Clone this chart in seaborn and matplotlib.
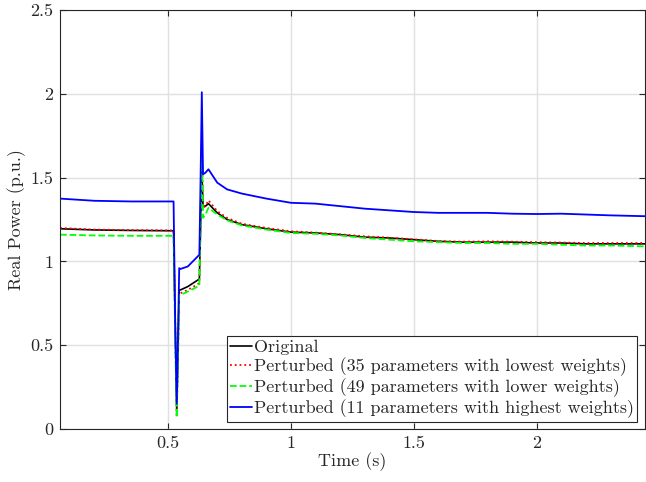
import matplotlib
matplotlib.use("Agg")
import matplotlib.pyplot as plt
import seaborn as sns
import numpy as np

time_s = [0.06, 0.2, 0.35, 0.522, 0.529, 0.535, 0.545, 0.55, 0.58, 0.627, 0.632, 0.637,
          0.642, 0.652, 0.664, 0.70, 0.74, 0.80, 0.90,
          1.0, 1.1, 1.2, 1.3, 1.4, 1.5, 1.6, 1.7, 1.8, 1.9, 2.0, 2.1, 2.2, 2.3, 2.44]

original = [1.195, 1.188, 1.185, 1.183, 0.6, 0.10, 0.83, 0.83, 0.85, 0.895, 1.2, 1.55,
            1.33, 1.33, 1.345, 1.29, 1.25, 1.22, 1.195,
            1.175, 1.17, 1.16, 1.145, 1.14, 1.13, 1.12, 1.115, 1.115, 1.115, 1.11, 1.11, 1.105, 1.105, 1.105]
pert_lowest = [1.2, 1.19, 1.187, 1.185, 0.6, 0.07, 0.81, 0.81, 0.83, 0.87, 1.25, 1.70,
               1.32, 1.33, 1.365, 1.30, 1.26, 1.225, 1.2,
               1.18, 1.172, 1.162, 1.15, 1.142, 1.132, 1.122, 1.118, 1.12, 1.118, 1.115, 1.113, 1.11, 1.11, 1.11]
pert_lower = [1.16, 1.155, 1.153, 1.153, 0.5, 0.07, 0.80, 0.80, 0.82, 0.855, 1.25, 1.70,
              1.26, 1.28, 1.32, 1.28, 1.245, 1.215, 1.19,
              1.17, 1.165, 1.155, 1.14, 1.13, 1.12, 1.115, 1.11, 1.11, 1.105, 1.105, 1.10, 1.095, 1.095, 1.09]
pert_highest = [1.375, 1.362, 1.358, 1.358, 0.6, 0.15, 0.96, 0.955, 0.97, 1.04, 1.5, 2.01,
                1.52, 1.53, 1.55, 1.47, 1.43, 1.405, 1.375,
                1.35, 1.345, 1.33, 1.315, 1.305, 1.295, 1.29, 1.29, 1.29, 1.285, 1.283, 1.285, 1.28, 1.275, 1.27]

labels = ["Original",
          "Perturbed (35 parameters with lowest weights)",
          "Perturbed (49 parameters with lower weights)",
          "Perturbed (11 parameters with highest weights)"]

sns.set_style("whitegrid")
plt.rcParams['font.family'] = ['cmr10', 'DejaVu Serif']
plt.rcParams['mathtext.fontset'] = 'cm'
plt.rcParams['axes.formatter.use_mathtext'] = True

fig = plt.figure(figsize=(6.46, 4.82), dpi=100)
ax = fig.add_axes([0.093, 0.110, 0.905, 0.869])

series = [(original, "black", "-", 1.2),
          (pert_lowest, "#FF0000", ":", 1.3),
          (pert_lower, "#00FF00", "--", 1.3),
          (pert_highest, "#0000FF", "-", 1.3)]
for (vals, col, ls, lw), lab in zip(series, labels):
    sns.lineplot(x=time_s, y=vals, ax=ax, color=col, linestyle=ls, linewidth=lw, label=lab)

ax.set_xlim(0.06, 2.44)
ax.set_ylim(0, 2.5)
ax.set_xticks([0.5, 1, 1.5, 2])
ax.set_xticklabels(["0.5", "1", "1.5", "2"])
ax.set_yticks([0, 0.5, 1, 1.5, 2, 2.5])
ax.set_yticklabels(["0", "0.5", "1", "1.5", "2", "2.5"])
ax.grid(True, color="#e0e0e0", linewidth=1.0)
for s in ax.spines.values():
    s.set_color("#262626")
    s.set_linewidth(0.8)
    s.set_visible(True)
ax.tick_params(direction="in", length=4, width=0.8, colors="#262626", labelsize=13,
               top=True, right=True, bottom=True, left=True, labelcolor="#262626", pad=5)
ax.set_xlabel("Time (s)", fontsize=13, color="#262626", labelpad=1)
ax.set_ylabel("Real Power (p.u.)", fontsize=13, color="#262626", labelpad=3)

leg = ax.legend(loc="lower right", fontsize=13, frameon=True, fancybox=False,
                edgecolor="#262626", framealpha=1, handlelength=1.2, handletextpad=0.1,
                borderpad=0.2, labelspacing=0.12, borderaxespad=0.4)
leg.get_frame().set_linewidth(0.8)

fig.savefig("out.png", dpi=100)
